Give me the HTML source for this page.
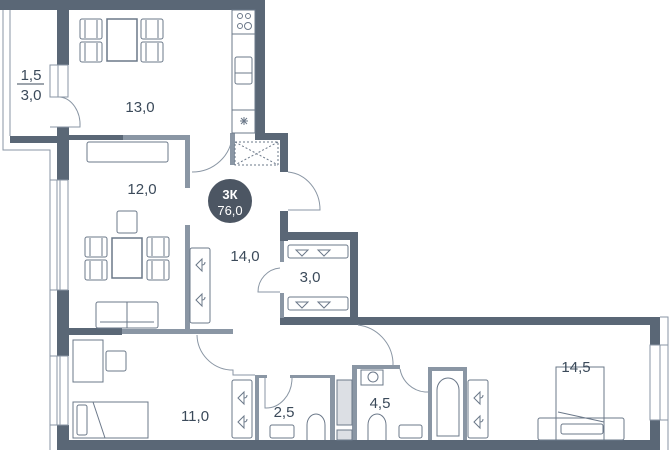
<!DOCTYPE html>
<html><head><meta charset="utf-8"><style>
html,body{margin:0;padding:0;background:#fff;}
svg{display:block}
text{font-family:"Liberation Sans",sans-serif;}
</style></head><body>
<svg width="670" height="450" viewBox="0 0 670 450" xmlns="http://www.w3.org/2000/svg">
<defs>
<g id="chair"><rect x="0" y="0" width="22" height="20" rx="2" fill="#fff" stroke="#6b7889" stroke-width="1"/><line x1="5" y1="1" x2="5" y2="19" stroke="#6b7889"/><line x1="17" y1="1" x2="17" y2="19" stroke="#6b7889"/></g>
<g id="hanger" fill="none" stroke="#6b7889" stroke-width="1"><path d="M0 0 L6 -6 L6 6 Z"/><path d="M6 0 q3 0 3 -3"/></g>
</defs>
<g fill="#5a6776">
<!-- top wall -->
<rect x="0" y="0" width="265" height="10"/>
<rect x="57" y="10" width="12" height="55"/>
<rect x="57" y="127" width="12" height="53"/>
<rect x="57" y="290" width="12" height="66"/>
<rect x="57" y="425" width="12" height="25"/>
<rect x="10" y="136" width="47" height="7"/>
<rect x="255" y="0" width="10" height="140"/>
<rect x="255" y="133" width="33" height="7"/>
<rect x="280" y="133" width="8" height="39"/>
<rect x="280" y="211" width="8" height="30"/>
<rect x="280" y="232" width="78" height="8"/>
<rect x="350" y="232" width="8" height="90"/>
<rect x="280" y="317" width="380" height="8"/>
<rect x="650" y="317" width="10" height="28"/>
<rect x="650" y="420" width="10" height="30"/>
<rect x="57" y="440" width="603" height="10"/>
<rect x="68" y="135" width="55" height="5"/>
<rect x="68" y="328" width="54" height="7"/>
</g>
<g fill="#8a96a4">
<rect x="123" y="135" width="67" height="5"/>
<rect x="185" y="135" width="5" height="53"/>
<rect x="185" y="225" width="5" height="105"/>
<rect x="122" y="329" width="111" height="5"/>
<rect x="230" y="133" width="5" height="32"/>
<rect x="280" y="241" width="4" height="21"/>
<rect x="280" y="293" width="4" height="25"/>
<rect x="255" y="375" width="4" height="65"/>
<rect x="259" y="375" width="8" height="3"/>
<rect x="290" y="375" width="42" height="3"/>
<rect x="330" y="375" width="5" height="65"/>
<rect x="352" y="365" width="5" height="75"/>
<rect x="352" y="365" width="48" height="4"/>
<rect x="428" y="367" width="39" height="4"/>
<rect x="428" y="367" width="4" height="73"/>
<rect x="463" y="367" width="4" height="73"/>
</g>
<g fill="none" stroke="#8a96a4" stroke-width="1">
<!-- balcony -->
<path d="M3 10 V150 H50 V450"/><path d="M10 10 V136"/>
<rect x="50" y="65" width="8" height="32"/><rect x="58" y="65" width="10" height="32"/>
<rect x="50" y="180" width="18" height="110"/><line x1="57" y1="180" x2="57" y2="290"/><line x1="60" y1="180" x2="60" y2="290"/>
<rect x="50" y="356" width="18" height="69"/><line x1="57" y1="356" x2="57" y2="425"/><line x1="60" y1="356" x2="60" y2="425"/>
<rect x="650" y="345" width="18" height="75"/><line x1="660" y1="345" x2="660" y2="420"/><path d="M660 317 H668 V450"/>
<!-- door arcs -->
<path d="M60 97 A22 28 0 0 1 80 127 H50"/>
<path d="M192 172 A40 38 0 0 0 232 135"/>
<path d="M288 172 A35 38 0 0 1 320 210 H288"/>
<path d="M280 268 A24 24 0 0 0 258 292 H280"/>
<path d="M197 335 A36 36 0 0 0 230 370 H233 V375 H255"/>
<path d="M292 378 A26 30 0 0 1 265 408 V378"/>
<path d="M400 369 A28 28 0 0 0 425 392 H432"/>
<path d="M358 325 A40 40 0 0 1 393 362 V365"/>
</g>
<!-- kitchen counter -->
<g fill="none" stroke="#6b7889" stroke-width="1">
<rect x="232" y="10" width="23" height="123"/>
<line x1="232" y1="34" x2="255" y2="34"/><line x1="232" y1="110" x2="255" y2="110"/>
<circle cx="240" cy="16" r="2.5"/><circle cx="248" cy="16" r="2.5"/><circle cx="240" cy="26" r="2.5"/><circle cx="248" cy="26" r="3.5"/>
<rect x="235" y="57" width="17" height="27" rx="2"/><line x1="235" y1="73" x2="252" y2="73"/>
<path d="M240 121 h8 M244 117 v8 M241 118 l6 6 M247 118 l-6 6"/>
<rect x="235" y="142" width="43" height="23" stroke-dasharray="2 2"/>
<path d="M235 142 L278 165 M278 142 L235 165" stroke-dasharray="2 2"/>
<!-- kitchen table -->
<rect x="107" y="19" width="30" height="42" stroke-width="1.5"/>
</g>
<use href="#chair" x="80" y="19"/><use href="#chair" x="80" y="42"/>
<use href="#chair" x="141" y="19"/><use href="#chair" x="141" y="42"/>
<!-- living -->
<g fill="none" stroke="#6b7889" stroke-width="1">
<rect x="87" y="142" width="81" height="20" rx="2"/>
<rect x="117" y="211" width="20" height="22" rx="2"/>
<rect x="112" y="238" width="30" height="40" stroke-width="1.5"/>
<rect x="96" y="302" width="62" height="26" rx="2"/><line x1="127" y1="302" x2="127" y2="328"/><line x1="100" y1="322" x2="154" y2="322"/>
<rect x="190" y="248" width="20" height="75" rx="2"/>
<rect x="232" y="380" width="20" height="58" rx="2"/>
<rect x="288" y="245" width="60" height="13" rx="2"/>
<rect x="288" y="297" width="60" height="13" rx="2"/>
<!-- bedroom 11 -->
<rect x="73" y="340" width="30" height="42"/>
<rect x="106" y="351" width="20" height="20" rx="2"/>
<rect x="73" y="402" width="75" height="36"/>
<rect x="77" y="405" width="10" height="30" rx="2"/><line x1="93" y1="402" x2="105" y2="438"/>
<!-- baths -->
<rect x="270" y="425" width="24" height="13" rx="2"/>
<path d="M307 440 V425 a9 11 0 0 1 18 0 V440"/>
<rect x="337" y="380" width="15" height="45" fill="#dcdfe4"/>
<rect x="337" y="430" width="15" height="10" fill="#dcdfe4"/>
<rect x="361" y="370" width="22" height="15"/><circle cx="373" cy="377" r="5"/>
<path d="M368 440 V425 a9 11 0 0 1 18 0 V440"/>
<rect x="399" y="425" width="23" height="13" rx="2"/>
<path d="M437 436 V390 a11 12 0 0 1 22 0 V436 Z"/>
<rect x="468" y="380" width="20" height="58" rx="2"/>
<!-- bed 14.5 -->
<rect x="556" y="367" width="48" height="73"/>
<rect x="538" y="418" width="86" height="22" rx="2"/>
<path d="M558 412 L604 422"/>
<rect x="561" y="424" width="42" height="10" rx="2"/>
</g>
<use href="#chair" x="85" y="237"/><use href="#chair" x="85" y="260"/>
<use href="#chair" x="147" y="237"/><use href="#chair" x="147" y="260"/>
<use href="#hanger" x="196" y="265"/><use href="#hanger" x="196" y="300"/>
<use href="#hanger" x="238" y="398"/><use href="#hanger" x="238" y="422"/>
<use href="#hanger" x="474" y="398"/><use href="#hanger" x="474" y="422"/>
<g fill="none" stroke="#6b7889"><path d="M296 250 h12 l-6 6 z M318 250 h12 l-6 6 z M296 302 h12 l-6 6 z M318 302 h12 l-6 6 z"/></g>
<!-- badge -->
<circle cx="230" cy="201" r="22" fill="#4c5663"/>
<text x="230" y="199" fill="#fff" font-size="13" font-weight="bold" text-anchor="middle">3К</text>
<text x="230" y="215" fill="#fff" font-size="13" text-anchor="middle">76,0</text>
<g fill="#3b4a5a" font-size="15" text-anchor="middle">
<text x="31" y="80">1,5</text><line x1="17" y1="84" x2="44" y2="84" stroke="#3b4a5a"/>
<text x="31" y="100">3,0</text>
<text x="140" y="112">13,0</text>
<text x="142" y="194">12,0</text>
<text x="245" y="261">14,0</text>
<text x="310" y="282">3,0</text>
<text x="195" y="421">11,0</text>
<text x="284" y="417">2,5</text>
<text x="380" y="408">4,5</text>
<text x="576" y="372">14,5</text>
</g>
</svg>
</body></html>
